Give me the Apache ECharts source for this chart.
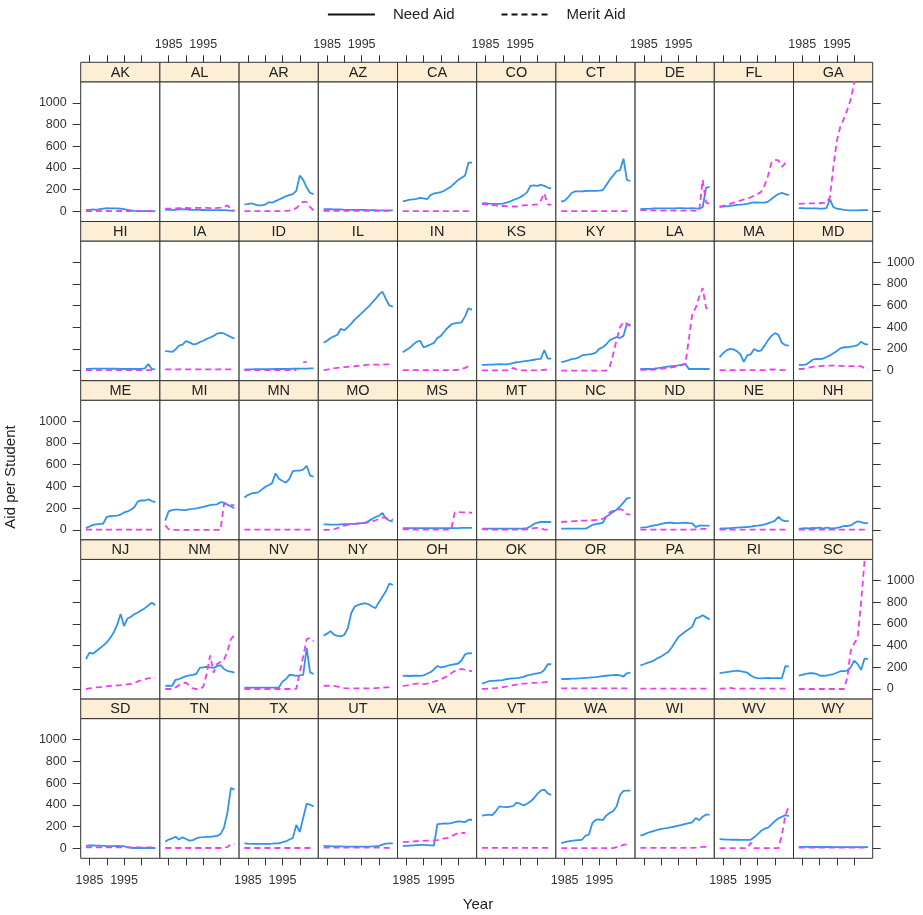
<!DOCTYPE html>
<html><head><meta charset="utf-8">
<script src="https://cdn.jsdelivr.net/npm/echarts@6/dist/echarts.min.js"></script>
<style>html,body{margin:0;padding:0;background:#fff}#c{width:923px;height:915px}</style>
</head><body><div id="c"></div>
<script>
// ---------- data ----------
const years = [1984,1985,1986,1987,1988,1989,1990,1991,1992,1993,1994,1995,1996,1997,1998,1999,2000,2001,2002,2003,2004];
const states = ['AK','AL','AR','AZ','CA','CO','CT','DE','FL','GA',
                'HI','IA','ID','IL','IN','KS','KY','LA','MA','MD',
                'ME','MI','MN','MO','MS','MT','NC','ND','NE','NH',
                'NJ','NM','NV','NY','OH','OK','OR','PA','RI','SC',
                'SD','TN','TX','UT','VA','VT','WA','WI','WV','WY'];
const xTickValues = [1985,1990,1995,2000];
const xTickLabels = [1985,1995];
const yTickValues = [0,200,400,600,800,1000];
const seriesNames = ['Need Aid','Merit Aid'];

const need_AK=[15,15,18,15,20,25,30,28,28,27,25,20,15,10,5,3,2,2,2,2,3];
const merit_AK=[2,3,4,3,2,3,4,3,2,3,4,3,3,3,2,2,2,2,2,2,2];
const need_AL=[15,15,15,15,18,20,18,15,15,15,14,13,12,12,12,12,12,12,10,8,6];
const merit_AL=[25,25,27,28,30,30,32,30,30,32,33,35,33,30,30,32,35,40,55,20,5];
const need_AR=[65,68,75,65,55,55,62,85,80,95,110,125,140,150,160,190,330,290,220,170,160];
const merit_AR=[3,3,3,3,3,3,3,3,3,3,3,3,5,8,15,30,60,90,85,40,10];
const need_AZ=[20,20,20,18,18,18,15,15,15,15,15,14,13,12,12,12,10,10,10,10,10];
const merit_AZ=[5,5,5,5,5,5,5,5,5,5,5,5,5,5,5,5,5,5,5,5,5];
const need_CA=[93,100,108,110,115,125,120,112,150,165,170,178,190,210,230,260,290,310,330,450,450];
const merit_CA=[3,3,3,3,3,3,3,3,3,3,3,3,3,3,3,3,3,3,3,3,3];
const need_CO=[74,75,72,70,70,70,72,80,90,105,115,130,150,175,235,240,235,245,235,220,210];
const merit_CO=[68,65,60,55,55,50,50,48,45,45,45,50,55,58,60,62,65,100,167,65,60];
const need_CT=[90,100,130,170,185,185,185,188,190,190,190,192,195,240,290,330,370,380,485,290,280];
const merit_CT=[3,3,3,3,3,3,3,3,3,3,3,3,3,3,3,3,3,3,3,3,3];
const need_DE=[20,22,24,25,27,28,28,28,27,28,28,30,30,28,28,30,28,25,40,220,225];
const merit_DE=[12,12,10,10,10,8,8,8,8,8,8,8,8,8,8,8,5,5,290,80,70];
const need_FL=[43,45,47,50,55,60,62,65,70,78,84,82,80,80,90,115,140,160,170,160,150];
const merit_FL=[43,50,60,70,80,90,100,110,120,130,145,160,180,240,330,450,475,470,410,445,440];
const need_GA=[30,30,28,28,28,27,26,25,30,110,40,25,20,15,12,10,10,10,12,12,12];
const merit_GA=[70,72,72,74,74,75,75,78,80,130,410,650,780,850,935,1030,1180,1300,1400,1450,1500];

const need_HI=[15,15,18,18,18,18,18,18,17,17,16,15,15,15,15,15,15,20,60,15,12];
const merit_HI=[5,5,5,5,5,5,5,5,5,5,5,5,5,5,5,5,5,5,5,5,5];
const need_IA=[180,178,172,195,230,240,272,260,242,245,262,275,292,305,320,340,347,342,325,310,295];
const merit_IA=[12,12,12,12,12,12,12,12,12,12,12,12,12,12,12,12,12,12,12,12,12];
const need_ID=[12,12,12,13,13,13,14,14,14,15,15,15,16,16,17,17,18,18,19,20,20];
const merit_ID=[5,5,5,5,5,5,5,5,5,5,5,5,5,5,5,5,null,75,80,null,null];
const need_IL=[257,275,300,315,330,385,372,400,433,470,500,530,560,590,625,660,700,728,660,600,590];
const merit_IL=[5,10,15,20,25,30,32,35,38,40,43,45,50,55,55,55,55,55,58,58,58];
const need_IN=[170,190,210,240,265,275,215,225,240,255,300,320,360,395,425,435,440,445,500,575,560];
const merit_IN=[5,5,5,5,5,5,5,5,5,5,5,5,5,5,5,5,8,15,25,40,40];
const need_KS=[53,53,55,55,58,60,58,57,62,70,77,80,85,90,95,100,105,108,190,110,110];
const merit_KS=[2,2,2,2,2,2,2,2,5,25,10,3,3,3,3,3,3,5,8,10,10];
const need_KY=[77,85,95,105,110,120,140,145,150,155,165,200,215,240,280,295,310,300,320,430,410];
const merit_KY=[0,0,0,0,0,0,0,0,0,0,0,0,0,0,30,150,280,400,450,430,420];
const need_LA=[15,15,15,15,18,22,28,32,36,40,44,48,55,62,15,15,15,15,15,15,15];
const merit_LA=[8,8,8,8,10,12,15,20,25,30,35,40,50,62,290,520,580,680,760,575,565];
const need_MA=[124,160,186,200,195,180,150,80,140,150,200,180,185,230,280,320,345,330,255,235,230];
const merit_MA=[5,5,5,5,5,5,5,5,5,5,5,5,5,5,8,10,10,8,5,5,5];
const need_MD=[53,52,55,75,100,108,105,110,125,140,160,180,205,215,215,220,225,235,265,245,240];
const merit_MD=[15,15,20,28,35,40,42,44,46,46,45,44,43,42,42,42,42,42,40,20,10];

const need_ME=[15,30,45,50,55,58,120,125,128,130,140,160,170,185,210,262,272,270,280,265,255];
const merit_ME=[2,2,2,2,2,2,2,2,2,2,2,2,2,2,2,2,2,2,2,2,2];
const need_MI=[85,170,182,186,186,182,182,190,192,198,205,212,220,228,232,235,255,250,232,215,198];
const merit_MI=[40,5,0,0,0,0,0,0,0,0,0,0,0,0,0,0,0,240,240,230,225];
const need_MN=[297,320,335,340,345,370,395,410,430,520,470,450,435,470,540,545,545,555,590,500,490];
const merit_MN=[2,2,2,2,2,2,2,2,2,2,2,2,2,2,2,2,2,2,2,2,2];
const need_MO=[50,50,48,48,47,50,52,52,55,55,58,62,65,80,100,118,128,155,105,85,78];
const merit_MO=[0,0,0,5,15,25,38,45,50,55,58,60,62,70,80,88,100,115,110,100,95];
const need_MS=[15,15,15,15,15,15,15,15,15,15,15,15,15,15,15,16,16,17,17,18,18];
const merit_MS=[5,5,3,3,3,2,2,2,2,2,2,2,2,3,5,160,165,160,160,160,155];
const need_MT=[10,10,10,10,10,10,10,10,10,10,10,10,12,15,30,55,65,72,72,72,72];
const merit_MT=[5,5,2,2,2,2,2,2,2,2,2,2,3,5,10,15,18,15,2,2,2];
const need_NC=[10,10,10,10,10,10,10,10,25,45,52,58,65,120,140,165,185,215,250,290,295];
const merit_NC=[72,74,76,78,80,82,84,85,86,88,90,95,100,120,160,175,185,190,180,145,140];
const need_ND=[20,22,25,35,40,45,55,62,65,65,62,62,64,65,62,60,25,40,38,38,36];
const merit_ND=[2,2,2,2,2,2,2,2,2,2,2,2,2,2,2,2,4,6,8,8,8];
const need_NE=[10,12,14,16,18,20,22,24,26,30,35,38,42,50,60,70,85,120,90,80,80];
const merit_NE=[2,2,2,2,2,2,2,2,2,2,2,2,2,2,2,2,2,2,2,2,2];
const need_NH=[10,12,15,12,18,15,20,12,20,15,12,18,25,35,35,40,60,78,70,62,62];
const merit_NH=[2,2,2,2,2,2,2,2,2,2,2,2,2,2,2,2,2,2,2,2,2];

const need_NJ=[276,335,325,350,375,400,430,470,520,590,690,580,650,665,690,705,725,745,770,795,775];
const merit_NJ=[0,5,10,15,18,22,25,28,30,33,36,40,43,46,55,70,82,90,97,103,105];
const need_NM=[28,30,28,85,92,105,118,125,130,140,195,200,205,200,195,210,220,185,165,160,152];
const merit_NM=[0,0,0,15,35,55,58,30,5,0,0,20,140,310,150,230,250,270,350,460,495];
const need_NV=[12,12,12,12,12,12,12,12,12,12,15,70,90,130,128,122,125,130,380,150,140];
const merit_NV=[0,0,0,0,0,0,0,0,0,0,0,0,0,0,0,2,150,300,460,470,440];
const need_NY=[492,510,533,500,490,485,500,560,700,760,775,785,790,780,760,745,800,850,900,970,960];
const merit_NY=[28,30,30,28,22,15,8,5,5,5,5,5,5,5,5,8,10,12,15,15,15];
const need_OH=[121,122,120,122,124,120,125,140,155,180,212,200,205,215,222,228,235,265,320,330,328];
const merit_OH=[28,32,38,45,50,48,44,50,58,68,78,90,105,120,145,165,175,185,175,168,165];
const need_OK=[50,60,72,75,78,80,82,90,95,98,100,105,112,125,130,140,145,150,175,228,228];
const merit_OK=[2,2,3,5,8,12,18,22,28,35,40,45,50,52,55,57,58,60,62,65,65];
const need_OR=[92,92,92,95,96,98,100,103,105,108,110,114,118,122,126,128,130,125,115,145,150];
const merit_OR=[5,5,5,5,5,5,5,5,5,5,5,5,5,5,5,5,5,5,5,5,5];
const need_PA=[217,228,240,250,265,285,300,320,340,380,430,480,505,530,550,575,650,660,680,660,640];
const merit_PA=[3,3,3,3,3,3,3,3,3,3,3,3,3,3,3,3,3,3,3,3,3];
const need_RI=[146,150,155,160,165,170,165,158,150,125,108,100,98,100,102,100,100,100,100,210,208];
const merit_RI=[3,3,5,10,5,3,3,3,3,3,3,3,3,3,3,3,3,3,3,3,3];
const need_SC=[124,130,140,145,146,140,124,122,124,130,138,150,164,165,170,200,262,232,176,280,278];
const merit_SC=[0,0,0,0,0,0,0,0,0,0,0,0,0,0,100,350,420,470,800,1180,null];

const need_SD=[22,25,25,24,23,22,20,20,20,22,20,18,10,3,2,2,2,2,2,2,2];
const merit_SD=[8,8,8,8,8,8,8,8,8,8,8,8,8,8,8,8,8,8,8,8,8];
const need_TN=[60,80,90,105,80,100,85,70,75,90,100,102,105,105,110,112,130,190,330,555,540];
const merit_TN=[2,2,2,2,2,2,2,2,2,2,2,2,2,2,2,2,2,5,10,40,35];
const need_TX=[45,42,40,40,40,40,40,40,42,45,45,55,62,80,93,215,150,280,410,400,385];
const merit_TX=[2,2,2,2,2,2,2,2,2,2,2,2,2,2,2,2,2,2,2,2,2];
const need_UT=[22,20,18,17,16,16,15,15,15,15,15,15,15,15,16,18,22,32,42,45,45];
const merit_UT=[5,5,5,5,5,5,5,5,5,5,5,5,5,5,5,5,5,5,3,2,2];
const need_VA=[22,22,24,26,28,30,30,28,26,25,222,225,228,226,232,240,248,245,240,262,262];
const merit_VA=[56,58,60,62,64,66,68,70,71,72,75,82,90,95,110,125,139,140,140,null,null];
const need_VT=[300,305,310,305,340,385,380,378,382,388,420,410,395,410,430,460,500,530,540,505,490];
const merit_VT=[3,3,3,3,3,3,3,3,3,3,3,3,3,3,3,3,3,3,3,3,3];
const need_WA=[46,55,62,68,72,75,78,115,124,230,262,265,258,300,325,340,385,490,528,530,530];
const merit_WA=[0,0,0,0,0,0,0,0,0,0,0,0,0,0,0,0,10,20,30,35,35];
const need_WI=[115,125,140,150,160,170,178,182,188,195,200,208,215,225,232,238,278,258,290,310,310];
const merit_WI=[3,3,3,3,3,3,3,3,3,3,3,3,3,3,3,3,5,10,12,12,12];
const need_WV=[84,82,80,79,78,78,77,77,77,78,100,130,160,180,190,220,250,275,290,305,295];
const merit_WV=[0,0,0,0,0,0,0,0,0,50,0,0,0,0,0,0,0,0,120,300,390];
const need_WY=[12,12,12,12,12,11,11,11,11,11,10,10,10,10,10,10,10,10,10,10,10];
const merit_WY=[5,5,5,5,5,5,5,5,5,5,5,5,5,5,5,5,5,5,5,5,5];

const needAid = {AK:need_AK,AL:need_AL,AR:need_AR,AZ:need_AZ,CA:need_CA,CO:need_CO,CT:need_CT,DE:need_DE,FL:need_FL,GA:need_GA,
  HI:need_HI,IA:need_IA,ID:need_ID,IL:need_IL,IN:need_IN,KS:need_KS,KY:need_KY,LA:need_LA,MA:need_MA,MD:need_MD,
  ME:need_ME,MI:need_MI,MN:need_MN,MO:need_MO,MS:need_MS,MT:need_MT,NC:need_NC,ND:need_ND,NE:need_NE,NH:need_NH,
  NJ:need_NJ,NM:need_NM,NV:need_NV,NY:need_NY,OH:need_OH,OK:need_OK,OR:need_OR,PA:need_PA,RI:need_RI,SC:need_SC,
  SD:need_SD,TN:need_TN,TX:need_TX,UT:need_UT,VA:need_VA,VT:need_VT,WA:need_WA,WI:need_WI,WV:need_WV,WY:need_WY};
const meritAid = {AK:merit_AK,AL:merit_AL,AR:merit_AR,AZ:merit_AZ,CA:merit_CA,CO:merit_CO,CT:merit_CT,DE:merit_DE,FL:merit_FL,GA:merit_GA,
  HI:merit_HI,IA:merit_IA,ID:merit_ID,IL:merit_IL,IN:merit_IN,KS:merit_KS,KY:merit_KY,LA:merit_LA,MA:merit_MA,MD:merit_MD,
  ME:merit_ME,MI:merit_MI,MN:merit_MN,MO:merit_MO,MS:merit_MS,MT:merit_MT,NC:merit_NC,ND:merit_ND,NE:merit_NE,NH:merit_NH,
  NJ:merit_NJ,NM:merit_NM,NV:merit_NV,NY:merit_NY,OH:merit_OH,OK:merit_OK,OR:merit_OR,PA:merit_PA,RI:merit_RI,SC:merit_SC,
  SD:merit_SD,TN:merit_TN,TX:merit_TX,UT:merit_UT,VA:merit_VA,VT:merit_VT,WA:merit_WA,WI:merit_WI,WV:merit_WV,WY:merit_WY};

// ---------- layout / style ----------
const L = 80.7, T = 62.3, CW = 79.2, RH = 159.2, SH = 19.5, NCOL = 10, NROW = 5;
const XMIN = 1982.47, XMAX = 2005.36, YMIN = -93, YMAX = 1194;
const FONT = '"Liberation Sans", Arial, Helvetica, sans-serif';
const BLUE = '#3093ec', MAGENTA = '#f03cf0', BORDER = '#333', STRIP = '#FCEFD6', TXT = '#222';

const grids = [], xAxes = [], yAxes = [], series = [], graphics = [];
const toPairs = arr => years.map((y, i) => [y, arr[i] == null ? '-' : arr[i]]);

states.forEach((s, k) => {
  const r = Math.floor(k / NCOL), c = k % NCOL;
  const x0 = L + c * CW, y0 = T + r * RH;
  grids.push({left: x0, top: y0 + SH, width: CW, height: RH - SH,
    show: true, borderColor: BORDER, borderWidth: 1, backgroundColor: '#fff'});
  const topRow = r === 0, botRow = r === NROW - 1;
  xAxes.push({gridIndex: k, type: 'value', min: XMIN, max: XMAX,
    position: topRow ? 'top' : 'bottom', offset: topRow ? SH : 0,
    axisLine: {show: false, onZero: false}, splitLine: {show: false},
    axisTick: {show: topRow || botRow, length: 7, customValues: xTickValues, lineStyle: {color: BORDER, width: 1}},
    axisLabel: {show: (topRow && c % 2 === 1) || (botRow && c % 2 === 0), customValues: xTickLabels,
      margin: topRow ? 11 : 16, fontSize: 12.5, color: '#333', fontFamily: FONT, formatter: v => String(v)}
  });
  const leftCol = c === 0, rightCol = c === NCOL - 1;
  yAxes.push({gridIndex: k, type: 'value', min: YMIN, max: YMAX,
    position: rightCol ? 'right' : 'left',
    axisLine: {show: false, onZero: false}, splitLine: {show: false},
    axisTick: {show: leftCol || rightCol, length: 8, customValues: yTickValues, lineStyle: {color: BORDER, width: 1}},
    axisLabel: {show: (leftCol && r % 2 === 0) || (rightCol && r % 2 === 1), customValues: yTickValues,
      margin: 14, fontSize: 12.5, color: '#333', fontFamily: FONT, formatter: v => String(v)}
  });
  series.push({type: 'line', name: seriesNames[0], xAxisIndex: k, yAxisIndex: k, data: toPairs(needAid[s]),
    symbol: 'none', showSymbol: false, silent: true, clip: true,
    lineStyle: {color: BLUE, width: 1.8}, itemStyle: {color: BLUE}});
  series.push({type: 'line', name: seriesNames[1], xAxisIndex: k, yAxisIndex: k, data: toPairs(meritAid[s]),
    symbol: 'none', showSymbol: false, silent: true, clip: true,
    lineStyle: {color: MAGENTA, width: 1.8, type: [6, 4]}, itemStyle: {color: MAGENTA}});
  graphics.push({type: 'rect', shape: {x: x0, y: y0, width: CW, height: SH},
    style: {fill: STRIP, stroke: BORDER, lineWidth: 1}, silent: true});
  graphics.push({type: 'text', x: x0 + CW / 2, y: y0 + SH / 2 + 0.5,
    style: {text: s, align: 'center', verticalAlign: 'middle', fontSize: 14.5, fontFamily: FONT, fill: TXT}, silent: true});
});

graphics.push({type: 'text', x: 11, y: 477, rotation: Math.PI / 2,
  style: {text: 'Aid per Student', align: 'center', verticalAlign: 'middle', fontSize: 15, fontFamily: FONT, fill: TXT}});
graphics.push({type: 'text', x: 478, y: 905,
  style: {text: 'Year', align: 'center', verticalAlign: 'middle', fontSize: 15, fontFamily: FONT, fill: TXT}});

const chart = echarts.init(document.getElementById('c'), null, {renderer: 'canvas'});
chart.setOption({
  animation: false,
  backgroundColor: '#fff',
  legend: {data: seriesNames, left: 327, top: 7, padding: 0, itemWidth: 47, itemHeight: 14, itemGap: 46,
    selectedMode: false,
    textStyle: {fontSize: 15, fontFamily: FONT, color: TXT, padding: [0, 0, 0, 13]},
    lineStyle: {color: '#111', width: 1.8},
    itemStyle: {opacity: 0}},
  grid: grids, xAxis: xAxes, yAxis: yAxes, series: series,
  graphic: {elements: graphics}
});
</script></body></html>
